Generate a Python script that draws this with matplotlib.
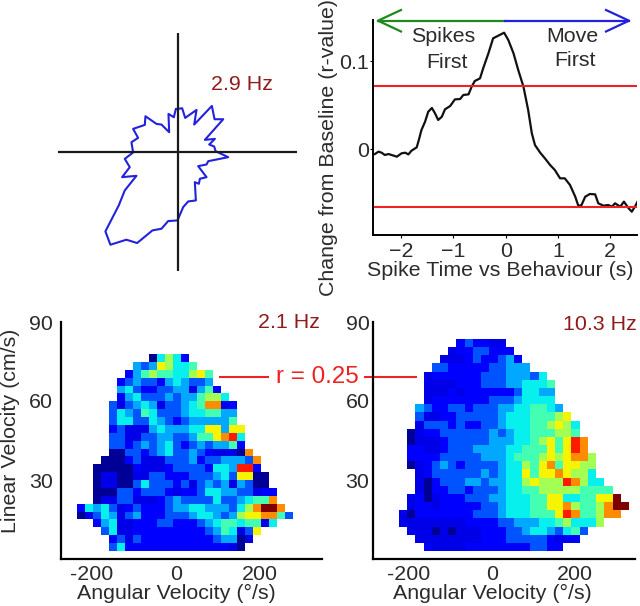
import matplotlib
matplotlib.use("Agg")
import matplotlib.pyplot as plt
import numpy as np

plt.rcParams['font.family'] = ['Liberation Sans', 'DejaVu Sans']

W, H = 640, 606
TXT = '#2b2b2b'
DARKRED = '#8e1c1c'
RED = '#ee2222'
FS = 15.4

# polar tuning outline, east / north offset from the centre of the cross
polar_x = [0, 14, 23, 57, 50, 103, 111, 137, 82, 112, 95, 110, 114, 152, 92, 87, 62, 87, 67, 64,
           52, 55, 32, 17, 0, -28, -48, -75, -121, -153, -201, -216, -176, -158, -123, -166,
           -143, -158, -133, -138, -118, -133, -98, -96, -63, -48, -25, -27, -11, -5, 0]
polar_y = [129, 131, 102, 126, 82, 138, 98, 98, 36, 39, 22, 16, 2, -16, -28, -38, -43, -76, -81, -96,
           -91, -146, -149, -166, -206, -208, -231, -236, -274, -264, -279, -239, -161, -116, -72, -76,
           -46, -21, -2, 29, 42, 69, 81, 107, 84, 82, 59, 114, 104, 129, 129]

# cross correlation trace
lag = [-2.50, -2.43, -2.37, -2.31, -2.24, -2.18, -2.08, -1.99, -1.92, -1.86, -1.80, -1.70, -1.66,
       -1.61, -1.54, -1.48, -1.41, -1.35, -1.29, -1.22, -1.16, -1.06, -0.97, -0.87, -0.81, -0.71,
       -0.65, -0.59, -0.49, -0.43, -0.33, -0.24, -0.14, -0.03, 0.05, 0.15, 0.24, 0.34, 0.43, 0.50,
       0.56, 0.66, 0.75, 0.85, 0.94, 1.04, 1.13, 1.23, 1.33, 1.39, 1.45, 1.52, 1.61, 1.71, 1.77,
       1.87, 1.96, 2.03, 2.09, 2.19, 2.26, 2.35, 2.41, 2.47, 2.52]
r_value = [-.0057, -.0030, -.0042, -.0068, -.0057, -.0068, -.0087, -.0049, -.0042, -.0061, -.0019,
           .0019, .0102, .0216, .0311, .0424, .0466, .0405, .0330, .0367, .0451, .0489, .0564, .0568,
           .0614, .0621, .0708, .0773, .0803, .0917, .1087, .1258, .1288, .1322, .1239, .1087, .0898,
           .0708, .0443, .0178, .0045, -.0042, -.0106, -.0182, -.0239, -.0333, -.0333, -.0409, -.0542,
           -.0648, -.0636, -.0542, -.0511, -.0515, -.0617, -.0644, -.0636, -.0655, -.0617, -.0655,
           -.0598, -.0674, -.0712, -.0655, -.0598]
thresholds = [0.0716, -0.0656]

# colour level of each heat map cell, top row first: (first column, levels)
levels = [0.02, .09, .125, .21, .29, .36, .43, .55, .65, .76, .88, 1.0]

left_rows = [
    (9, "05752"), (7, "43487556"), (6, "24676655786"), (5, "234332454334"),
    (5, "4532233441462"), (5, "24533343446775"), (4, "3134541334569912"),
    (4, "3543653334556644"), (4, "3553354323444446"), (4, "23111454445588488"),
    (4, "33113344334668" + "9A5"), (4, "33234345323434462"), (4, "003323453343211109"),
    (3, "00023111333423344439"), (2, "000002111233332554AA2"),
    (2, "0110011332223334538800"), (2, "0110035333231343414300"),
    (2, "00033233321223554433122"), (2, "01133111234333353345669"),
    (0, "25453123222344554443579BB9"), (0, "013541342223334554347889963"),
    (2, "24511222332223456656615"), (3, "35112222222223465138"),
    (4, "231322222222234401"), (4, "35222222222222210"),
]
right_rows = [
    (7, "232211"), (6, "12233222"), (5, "1112322342"), (4, "332222233444"),
    (3, "122222233344435"), (3, "1111222333445556"), (3, "1112122222235544"),
    (3, "1222222233345555"), (2, "432233233344556654"), (2, "3112233333455566678"),
    (2, "13332322334555667875"), (1, "012233333343455666776"),
    (1, "01112333334445567868A9"), (1, "22112333444455666868A9"),
    (1, "22223333344456667878997"), (1, "01234323333455768968877"),
    (2, "1233333343455868898775"), (2, "10233344344557877" + "7A9755"),
    (2, "102233233345566777776666"), (1, "12012223334455566885566" + "88B"),
    (1, "122122222334555668897667" + "9BB"), (0, "102222222333455566" + "68A966799"),
    (0, "1111111122223344455675557"), (1, "1110101112223345543563"),
    (2, "11111111222333332122"), (3, "21111222222223322"),
]


def make_grid(rows, ncols):
    grid = np.full((len(rows), ncols), np.nan)
    for i, (start, vals) in enumerate(rows):
        for j, ch in enumerate(vals):
            grid[i, start + j] = levels[int(ch, 16)]
    return grid


def px_axes(x0, y0, x1, y1):
    return fig.add_axes([x0 / W, 1 - y1 / H, (x1 - x0) / W, (y1 - y0) / H])


def px_text(x, y, s, **kw):
    kw.setdefault('color', TXT)
    kw.setdefault('ha', 'center')
    kw.setdefault('va', 'center')
    fig.text(x / W, 1 - y / H, s, **kw)


def heat_panel(box, xlim, grid, extent, ypad):
    ax = px_axes(*box)
    ax.imshow(grid, cmap='jet', vmin=0, vmax=1, extent=extent, aspect='auto',
              interpolation='nearest', origin='upper')
    ax.set_xlim(xlim)
    ax.set_ylim(0, 90)
    ax.set_xticks([-200, 0, 200])
    ax.set_xticklabels(['-200', '0', '200'])
    ax.set_yticks([30, 60, 90])
    ax.tick_params(length=0, labelsize=FS, labelcolor=TXT, pad=4)
    ax.tick_params(axis='y', pad=ypad)
    for s in ['top', 'right']:
        ax.spines[s].set_visible(False)
    for s in ['left', 'bottom']:
        ax.spines[s].set_linewidth(1.6)
    ax.patch.set_alpha(0)
    return ax


fig = plt.figure(figsize=(W / 100, H / 100), dpi=100, facecolor='white')

# polar plot
ax = px_axes(58, 32.7, 297, 271)
ax.plot(polar_x, polar_y, color='#2222dd', lw=1.5)
ax.axhline(0, color='#1a1a1a', lw=1.6)
ax.axvline(0, color='#1a1a1a', lw=1.6)
ax.set_xlim(-358, 358)
ax.set_ylim(-358, 358)
ax.axis('off')
px_text(242, 85, '2.9 Hz', color=DARKRED, fontsize=FS)

# cross correlation
ax = px_axes(373.3, 20, 637, 235)
ax.plot(lag, r_value, color='#111111', lw=1.6)
for t in thresholds:
    ax.axhline(t, color=RED, lw=1.5)
ax.set_xlim(-2.53, 2.51)
ax.set_ylim(-0.0977, 0.1466)
ax.set_xticks([-2, -1, 0, 1, 2])
ax.set_yticks([0, 0.1])
ax.set_yticklabels(['0', '0.1'])
ax.tick_params(length=2, labelsize=FS, labelcolor=TXT, pad=3)
ax.tick_params(axis='y', pad=1)
for s in ['top', 'right']:
    ax.spines[s].set_visible(False)
for s in ['left', 'bottom']:
    ax.spines[s].set_linewidth(1.4)

# direction arrows over the top of the panel
over = fig.add_axes([0, 0, 1, 1])
over.set_xlim(0, W)
over.set_ylim(H, 0)
over.axis('off')
over.patch.set_alpha(0)
over.plot([378, 505], [20.7, 20.7], color='#1e8a1e', lw=1.6)
over.plot([401, 378, 401], [10, 20.7, 31.5], color='#1e8a1e', lw=1.6)
over.plot([505, 629], [20.7, 20.7], color='#2222dd', lw=1.6)
over.plot([606, 629, 606], [10, 20.7, 31.5], color='#2222dd', lw=1.6)
over.plot([220, 268], [377, 377], color=RED, lw=1.5)
over.plot([365, 416], [377, 377], color=RED, lw=1.5)

px_text(443, 37, 'Spikes', fontsize=FS)
px_text(447, 62, 'First', fontsize=FS)
px_text(572, 36, 'Move', fontsize=FS)
px_text(575, 61, 'First', fontsize=FS)
px_text(500, 271, 'Spike Time vs Behaviour (s)', fontsize=FS)
px_text(329, 147, 'Change from Baseline (r-value)', fontsize=FS, rotation=90)

# heat maps
heat_panel((60.7, 322, 322, 559), (-274.5, 348), make_grid(left_rows, 27), (-235, 279, 3.2, 78), 5.5)
heat_panel((373, 322, 635, 559), (-287, 344), make_grid(right_rows, 28), (-225.5, 327, 3.2, 83.7), 2.5)

px_text(176, 593, 'Angular Velocity (°/s)', fontsize=FS)
px_text(492, 593, 'Angular Velocity (°/s)', fontsize=FS)
px_text(11, 431, 'Linear Velocity (cm/s)', fontsize=FS, rotation=90)
px_text(289, 323, '2.1 Hz', color=DARKRED, fontsize=FS)
px_text(600, 324, '10.3 Hz', color=DARKRED, fontsize=FS)
px_text(317, 377, 'r = 0.25', color=RED, fontsize=17.4)

fig.savefig('out.png', dpi=100, facecolor='white')
